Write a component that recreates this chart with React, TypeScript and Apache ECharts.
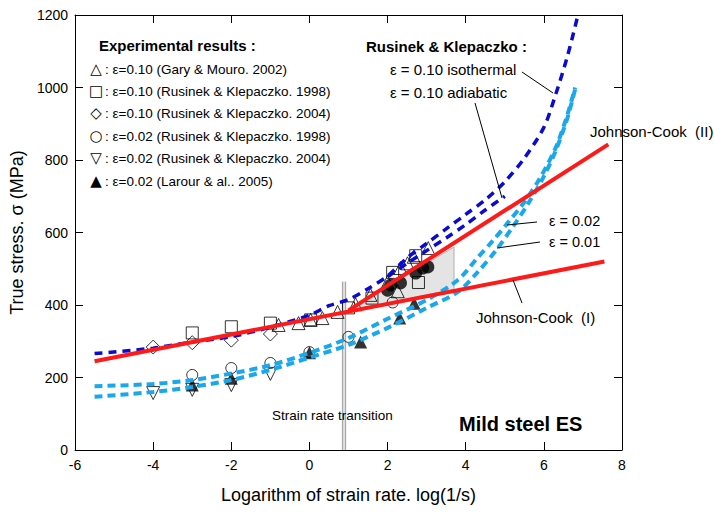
import React, { useEffect, useRef } from "react";
import * as echarts from "echarts";

// ---- Data ----
// Rusinek & Klepaczko model, eps=0.10 isothermal (dark blue dashed)
const isoX = [-5.5, -4, -3, -2, -1, 0, 0.5, 1, 1.5, 2, 2.5, 3, 3.5, 4, 4.5, 5, 5.5, 6, 6.3, 6.6, 6.85];
const isoY = [266, 281, 298, 313, 339, 372, 398, 415, 445, 480, 530, 570, 610, 650, 690, 740, 805, 890, 980, 1085, 1190];
// eps=0.10 adiabatic (dark blue dashed, branching lower)
const adiaX = [2, 2.5, 3, 3.5, 4, 4.5, 5];
const adiaY = [478, 515, 550, 585, 622, 662, 700];
// eps=0.02 (light blue dashed)
const e02X = [-5.5, -4, -3, -2, -1, 0, 1, 2, 3, 3.8, 4.3, 4.7, 5.1, 5.5, 5.9, 6.3, 6.6, 6.8];
const e02Y = [176, 182, 193, 211, 234, 268, 309, 362, 414, 469, 530, 578, 630, 684, 750, 833, 924, 1000];
// eps=0.01 (light blue dashed)
const e01X = [-5.5, -4, -3, -2, -1, 0, 1, 2, 3, 3.8, 4.3, 4.8, 5.2, 5.6, 6.0, 6.3, 6.6, 6.8];
const e01Y = [147, 160, 174, 193, 221, 255, 290, 337, 392, 436, 490, 554, 615, 680, 755, 825, 915, 995];
// Johnson-Cook (I) and (II)
const jc1X = [-5.5, 7.55];
const jc1Y = [245, 520];
const jc2X = [1.0, 7.65];
const jc2Y = [385, 843];
// shaded zone
const shadeX = [1.0, 3.7, 3.7];
const shadeY = [385, 560, 443];
// strain rate transition (double line)
const transX = [0.85, 0.92];
const transTop = 465;

// Experimental points
const triUpX = [-0.79, -0.28, 0.03, 0.33, 0.72, 1.18, 1.56, 2.0, 2.26, 2.33, 2.51, 2.67, 3.04];
const triUpY = [345, 350, 359, 364, 381, 402, 428, 463, 438, 502, 515, 533, 557];
const squareX = [-3, -2, -1, 0.03, 1.0, 1.6, 2.13, 2.72, 2.79];
const squareY = [323, 340, 350, 359, 392, 419, 490, 536, 462];
const diamondX = [-4, -3, -2, -1];
const diamondY = [284, 296, 303, 320];
const circleX = [-3, -2, -1, 0, 1.0, 2.13];
const circleY = [207, 226, 240, 270, 312, 407];
const triDownX = [-4, -3, -2, -1];
const triDownY = [157, 166, 179, 210];
const triFillX = [-3, -2, 0, 1.31, 2.31, 2.68];
const triFillY = [179, 198, 268, 298, 364, 405];
const dotX = [2.0, 2.08, 2.33, 2.72, 2.9, 3.03];
const dotY = [441, 455, 461, 488, 502, 505];

// legend rows (custom legend)
const legendSymbols = ["△", "□", "◇", "○", "▽", "▲"];
const legendTexts = [
  ": ε=0.10 (Gary & Mouro. 2002)",
  ": ε=0.10 (Rusinek & Klepaczko. 1998)",
  ": ε=0.10 (Rusinek & Klepaczko. 2004)",
  ": ε=0.02 (Rusinek & Klepaczko. 1998)",
  ": ε=0.02 (Rusinek & Klepaczko. 2004)",
  ": ε=0.02 (Larour & al.. 2005)",
];

const zip = (xs: number[], ys: number[]) => xs.map((x, i) => [x, ys[i]]);

const FONT = "Liberation Sans, Arial, sans-serif";

export default function App() {
  const ref = useRef<HTMLDivElement>(null);
  useEffect(() => {
    if (!ref.current) return;
    const chart = echarts.init(ref.current, undefined, { renderer: "svg" });
    const openStyle = { color: "rgba(0,0,0,0)", borderColor: "#000", borderWidth: 1 };
    const scat = (name: string, xs: number[], ys: number[], symbol: string, size: number, style: any, rotate = 0) => ({
      name,
      type: "scatter",
      data: zip(xs, ys),
      symbol,
      symbolSize: size,
      symbolRotate: rotate,
      itemStyle: style,
      z: 3,
    });
    const dashed = (name: string, xs: number[], ys: number[], color: string, width: number, dash: number[]) => ({
      name,
      type: "line",
      data: zip(xs, ys),
      smooth: 0.3,
      showSymbol: false,
      lineStyle: { color, width, type: dash, cap: "butt" },
      z: 4,
    });
    const text = (x: number, y: number, t: string, size: number, bold = false, align = "left", family = FONT) => ({
      type: "text",
      x,
      y,
      style: {
        text: t,
        font: `${bold ? "bold " : ""}${size}px ${family}`,
        fill: "#000",
        textAlign: align,
        textVerticalAlign: "middle",
      },
      z: 10,
    });
    const seg = (x1: number, y1: number, x2: number, y2: number) => ({
      type: "line",
      shape: { x1, y1, x2, y2 },
      style: { stroke: "#000", lineWidth: 1 },
      z: 10,
    });
    const shadePts = zip(shadeX, shadeY);
    const axisLine = { show: true, onZero: false, lineStyle: { color: "#000", width: 1 } };
    const axisTick = { show: true, inside: true, length: 8, lineStyle: { color: "#000" } };
    const legendRowsY = [69, 91, 113, 136, 158, 181];
    const legendGraphics: any[] = [];
    legendSymbols.forEach((s, i) => {
      legendGraphics.push(text(96, legendRowsY[i], s, 15, false, "center", "DejaVu Sans, sans-serif"));
      legendGraphics.push(text(105, legendRowsY[i], legendTexts[i], 13.5));
    });

    chart.setOption({
      animation: false,
      grid: { left: 75, right: 92, top: 15, bottom: 64 },
      xAxis: [
        {
          type: "value",
          min: -6,
          max: 8,
          interval: 2,
          name: "Logarithm of strain rate. log(1/s)",
          nameLocation: "middle",
          nameGap: 36,
          nameTextStyle: { fontFamily: FONT, fontSize: 18, color: "#000" },
          axisLine,
          axisTick,
          axisLabel: { fontFamily: FONT, fontSize: 14, color: "#000", margin: 8, formatter: (v: number) => String(v) },
          splitLine: { show: false },
        },
        {
          type: "value",
          position: "top",
          min: -6,
          max: 8,
          interval: 2,
          axisLine,
          axisTick,
          axisLabel: { show: false },
          splitLine: { show: false },
        },
      ],
      yAxis: [
        {
          type: "value",
          min: 0,
          max: 1200,
          interval: 200,
          name: "True stress. σ (MPa)",
          nameLocation: "middle",
          nameGap: 39,
          nameTextStyle: { fontFamily: FONT, fontSize: 18, color: "#000" },
          axisLine,
          axisTick,
          axisLabel: { fontFamily: FONT, fontSize: 14, color: "#000", margin: 7, formatter: (v: number) => String(v) },
          splitLine: { show: false },
        },
        {
          type: "value",
          position: "right",
          min: 0,
          max: 1200,
          interval: 200,
          axisLine,
          axisTick,
          axisLabel: { show: false },
          splitLine: { show: false },
        },
      ],
      series: [
        {
          name: "shade",
          type: "custom",
          data: [[0]],
          renderItem: (params: any, api: any) => {
            const pts = shadePts.map((p) => api.coord(p));
            return {
              type: "polygon",
              shape: { points: pts },
              style: { fill: "#e4e4e4", stroke: "#b0b0b0", lineWidth: 1 },
            };
          },
          z: 1,
        },
        {
          name: "transition1",
          type: "line",
          data: [[transX[0], 0], [transX[0], transTop]],
          showSymbol: false,
          lineStyle: { color: "#a8a8a8", width: 1.5 },
          z: 2,
        },
        {
          name: "transition2",
          type: "line",
          data: [[transX[1], 0], [transX[1], transTop]],
          showSymbol: false,
          lineStyle: { color: "#a8a8a8", width: 1.5 },
          z: 2,
        },
        scat("ε=0.10 (Gary & Mouro. 2002)", triUpX, triUpY, "triangle", 13, openStyle),
        scat("ε=0.10 (Rusinek & Klepaczko. 1998)", squareX, squareY, "rect", 12, openStyle),
        scat("ε=0.10 (Rusinek & Klepaczko. 2004)", diamondX, diamondY, "diamond", 14, openStyle),
        scat("ε=0.02 (Rusinek & Klepaczko. 1998)", circleX, circleY, "circle", 11, openStyle),
        scat("ε=0.02 (Rusinek & Klepaczko. 2004)", triDownX, triDownY, "triangle", 13, openStyle, 180),
        scat("ε=0.02 (Larour & al.. 2005)", triFillX, triFillY, "triangle", 13, { color: "#000" }),
        scat("filled", dotX, dotY, "circle", 13, { color: "#000" }),
        dashed("ε = 0.02", e02X, e02Y, "#1aa8ec", 4, [8, 5]),
        dashed("ε = 0.01", e01X, e01Y, "#1aa8ec", 4, [8, 5]),
        dashed("ε = 0.10 adiabatic", adiaX, adiaY, "#0a0ad0", 3.5, [8, 6]),
        dashed("ε = 0.10 isothermal", isoX, isoY, "#0a0ad0", 3.5, [8, 6]),
        {
          name: "Johnson-Cook (I)",
          type: "line",
          data: zip(jc1X, jc1Y),
          showSymbol: false,
          lineStyle: { color: "#ff1a1a", width: 4 },
          z: 5,
        },
        {
          name: "Johnson-Cook (II)",
          type: "line",
          data: zip(jc2X, jc2Y),
          showSymbol: false,
          lineStyle: { color: "#ff1a1a", width: 4 },
          z: 5,
        },
      ],
      graphic: [
        text(99, 45, "Experimental results :", 15, true),
        ...legendGraphics,
        text(366, 46, "Rusinek & Klepaczko :", 15, true),
        text(390, 69, "ε = 0.10 isothermal", 15),
        text(390, 92, "ε = 0.10 adiabatic", 15),
        seg(522, 72, 553, 93),
        seg(475, 103, 502, 198),
        text(590, 131, "Johnson-Cook  (II)", 15),
        text(549, 221, "ε = 0.02", 14.5),
        text(549, 242, "ε = 0.01", 14.5),
        seg(537, 222, 507, 225),
        seg(540, 242, 497, 248),
        text(476, 317, "Johnson-Cook  (I)", 15),
        seg(513, 280, 522, 303),
        text(272, 415, "Strain rate transition", 13.5),
        text(459, 424, "Mild steel ES", 20, true),
      ],
    });
    return () => chart.dispose();
  }, []);
  return <div ref={ref} style={{ position: "fixed", left: 0, top: 0, width: 714, height: 514, background: "#fff" }} />;
}
